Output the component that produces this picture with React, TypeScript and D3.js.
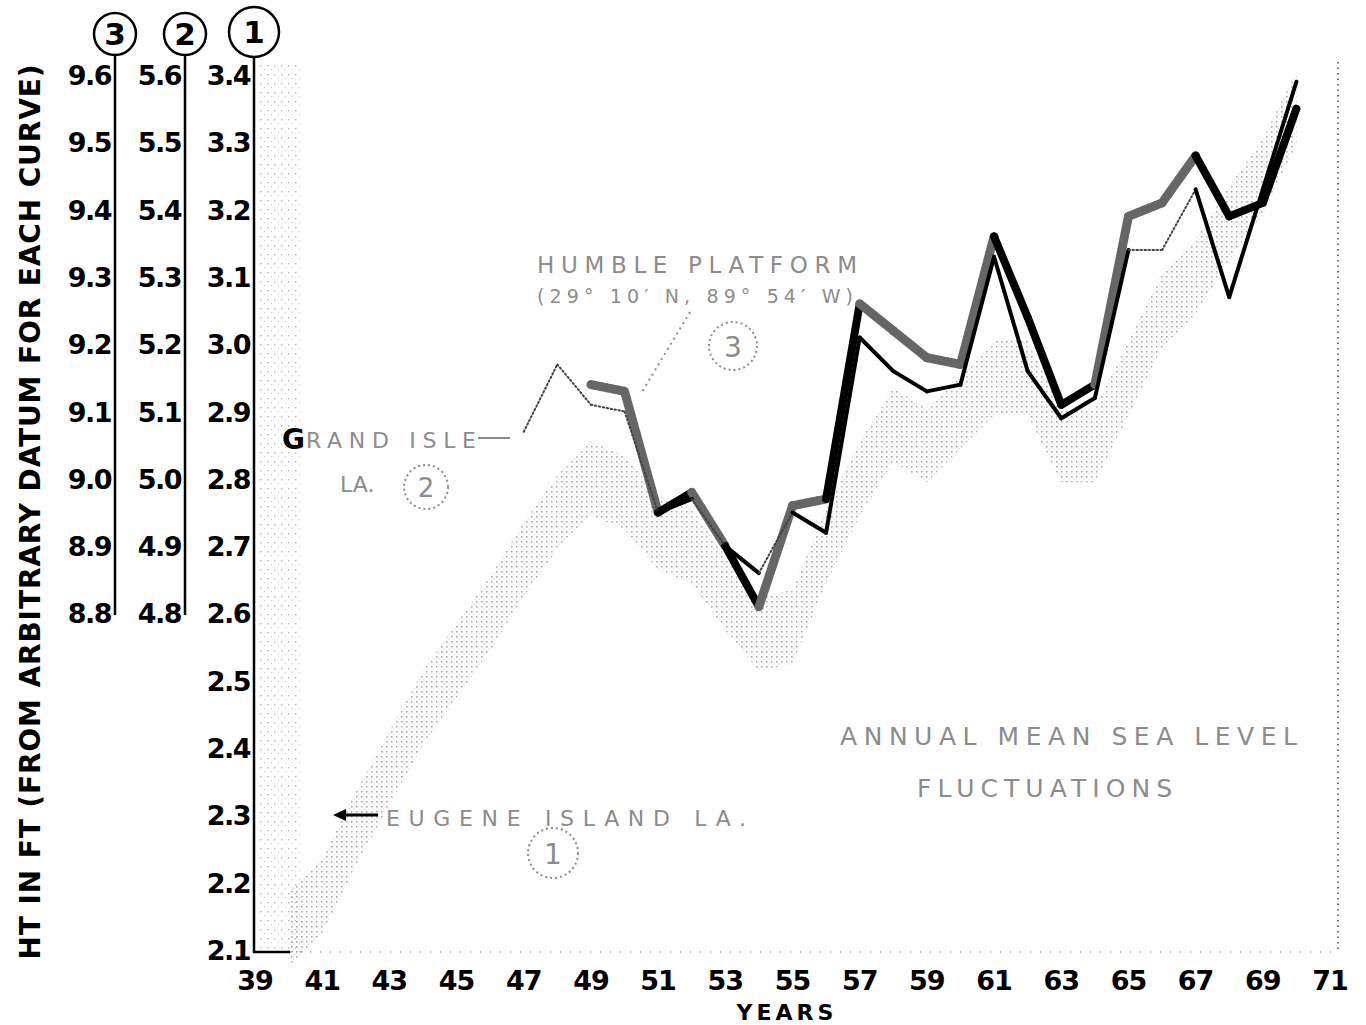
import React from 'react';
import * as d3 from 'd3';

// Eugene Island, La. (curve 1, left scale)
const eugeneYears = [1940, 1941, 1942, 1943, 1944, 1945, 1946, 1947, 1948, 1949, 1950, 1951, 1952, 1953, 1954, 1955, 1956, 1957, 1958, 1959, 1960, 1961, 1962, 1963, 1964, 1965, 1966, 1967, 1968, 1969, 1970];
const eugeneFt = [2.13, 2.18, 2.28, 2.37, 2.46, 2.53, 2.6, 2.68, 2.75, 2.8, 2.78, 2.72, 2.7, 2.63, 2.57, 2.58, 2.7, 2.8, 2.88, 2.85, 2.9, 2.95, 2.95, 2.85, 2.85, 2.95, 3.05, 3.1, 3.18, 3.25, 3.35];

// Grand Isle, La. (curve 2, middle scale)
const grandIsleYears = [1947, 1948, 1949, 1950, 1951, 1952, 1953, 1954, 1955, 1956, 1957, 1958, 1959, 1960, 1961, 1962, 1963, 1964, 1965, 1966, 1967, 1968, 1969, 1970];
const grandIsleFt = [5.07, 5.17, 5.11, 5.1, 4.95, 4.97, 4.9, 4.86, 4.95, 4.92, 5.21, 5.16, 5.13, 5.14, 5.33, 5.16, 5.09, 5.12, 5.34, 5.34, 5.43, 5.27, 5.43, 5.59];

// Humble Platform (curve 3, outer scale)
const humbleYears = [1949, 1950, 1951, 1952, 1953, 1954, 1955, 1956, 1957, 1958, 1959, 1960, 1961, 1962, 1963, 1964, 1965, 1966, 1967, 1968, 1969, 1970];
const humbleFt = [9.14, 9.13, 8.95, 8.98, 8.9, 8.81, 8.96, 8.97, 9.26, 9.22, 9.18, 9.17, 9.36, 9.24, 9.11, 9.14, 9.39, 9.41, 9.48, 9.39, 9.41, 9.55];

const ticks1 = ['3.4', '3.3', '3.2', '3.1', '3.0', '2.9', '2.8', '2.7', '2.6', '2.5', '2.4', '2.3', '2.2', '2.1'];
const ticks2 = ['5.6', '5.5', '5.4', '5.3', '5.2', '5.1', '5.0', '4.9', '4.8'];
const ticks3 = ['9.6', '9.5', '9.4', '9.3', '9.2', '9.1', '9.0', '8.9', '8.8'];
const yearTicks = [39, 41, 43, 45, 47, 49, 51, 53, 55, 57, 59, 61, 63, 65, 67, 69, 71];

// which segments print solid (the rest came out stippled in the scan)
const humbleSolid = [0, 0, 1, 0, 1, 0, 0, 1, 0, 0, 0, 0, 1, 1, 1, 0, 0, 0, 1, 1, 1];
const grandSolid = [0, 0, 0, 0, 1, 0, 1, 0, 1, 1, 1, 1, 1, 1, 1, 1, 1, 1, 0, 0, 1, 1, 1];

const W = 1366;
const H = 1025;
const bold = "'DejaVu Sans', sans-serif";
const faded = '#8c8c8c';

const App: React.FC = () => {
  const x = d3.scaleLinear().domain([39, 71]).range([255, 1330]);
  const y1 = d3.scaleLinear().domain([2.1, 3.4]).range([950, 75]);
  const y2 = d3.scaleLinear().domain([4.3, 5.6]).range([950, 75]);
  const y3 = d3.scaleLinear().domain([8.3, 9.6]).range([950, 75]);
  const yr = (v: number) => x(v - 1900);

  const band = d3.area<number>()
    .x((_, i) => yr(eugeneYears[i]))
    .y0(v => y1(v - 0.055))
    .y1(v => y1(v + 0.055));

  const seg = d3.line<[number, number]>();

  const segments = (years: number[], vals: number[], ys: d3.ScaleLinear<number, number>) =>
    vals.slice(1).map((v, i) => seg([
      [yr(years[i]), ys(vals[i])],
      [yr(years[i + 1]), ys(v)],
    ]) as string);

  const humbleSegs = segments(humbleYears, humbleFt, y3);
  const grandSegs = segments(grandIsleYears, grandIsleFt, y2);

  const axisCols = [
    { x: 115, labels: ticks3, scale: y3, num: '3', cy: 34, r: 21, bottom: 615 },
    { x: 185, labels: ticks2, scale: y2, num: '2', cy: 34, r: 21, bottom: 615 },
    { x: 254, labels: ticks1, scale: y1, num: '1', cy: 32, r: 25, bottom: 953 },
  ];

  return (
    <svg width={W} height={H} style={{ position: 'absolute', left: 0, top: 0, background: '#fff' }}>
      <defs>
        <pattern id="halftone" width="5" height="5" patternUnits="userSpaceOnUse">
          <rect x="1" y="1" width="1.6" height="1.6" fill="#707070" />
          <rect x="3.5" y="3.5" width="1" height="1" fill="#a0a0a0" />
        </pattern>
        <pattern id="sparse" width="7" height="9" patternUnits="userSpaceOnUse">
          <rect x="1" y="2" width="1.4" height="1.4" fill="#888" />
          <rect x="5" y="6" width="1" height="1.2" fill="#aaa" />
        </pattern>
      </defs>

      {/* stippled strip along left axis and dotted right border */}
      <rect x={258} y={62} width={44} height={890} fill="url(#sparse)" opacity={0.6} />
      <line x1={1338} x2={1338} y1={62} y2={952} stroke="#777" strokeWidth={2} strokeDasharray="1.5 4" />

      {/* Eugene Island halftone band */}
      <path d={band(eugeneFt) as string} fill="url(#halftone)" opacity={0.6} />

      {/* Humble Platform (thick) */}
      {humbleSegs.map((d, i) => (
        <path key={`h${i}`} d={d} fill="none"
          stroke={humbleSolid[i] ? '#000' : '#666'}
          strokeWidth={humbleSolid[i] ? 8 : 9}
          strokeDasharray={humbleSolid[i] ? undefined : '1.6 1.6'}
          strokeLinecap="round" strokeLinejoin="round" />
      ))}

      {/* Grand Isle (thin) */}
      {grandSegs.map((d, i) => (
        <path key={`g${i}`} d={d} fill="none"
          stroke={grandSolid[i] ? '#000' : '#444'}
          strokeWidth={grandSolid[i] ? 4 : 2}
          strokeDasharray={grandSolid[i] ? undefined : '1.5 2.5'}
          strokeLinecap="round" strokeLinejoin="round" />
      ))}

      {/* Left scales */}
      {axisCols.map(c => (
        <g key={c.num}>
          <circle cx={c.x} cy={c.cy} r={c.r} fill="#fff" stroke="#000" strokeWidth={2.5} />
          <text x={c.x} y={c.cy + 11} textAnchor="middle" fontFamily={bold} fontWeight="bold" fontSize={31}>{c.num}</text>
          <line x1={c.x} x2={c.x} y1={c.cy + c.r} y2={c.bottom} stroke="#000" strokeWidth={2.5} />
          {c.labels.map(t => (
            <text key={t} x={c.x - 4} y={c.scale(+t) + 10} textAnchor="end"
              fontFamily={bold} fontWeight="bold" fontSize={27} letterSpacing={-1.5}>{t}</text>
          ))}
        </g>
      ))}

      {/* X axis */}
      <line x1={253} x2={290} y1={952} y2={952} stroke="#000" strokeWidth={2.5} />
      <line x1={290} x2={1338} y1={952} y2={952} stroke="#999" strokeWidth={1.5} strokeDasharray="1 9" />
      {yearTicks.map(t => (
        <text key={t} x={x(t)} y={990} textAnchor="middle" fontFamily={bold} fontWeight="bold" fontSize={27} letterSpacing={-1}>{t}</text>
      ))}
      <text x={787} y={1020} textAnchor="middle" fontFamily={bold} fontWeight="bold" fontSize={22} letterSpacing={4}>YEARS</text>

      {/* Y title */}
      <text transform="translate(40,512) rotate(-90)" textAnchor="middle" fontFamily={bold}
        fontWeight="bold" fontSize={28} textLength={895} lengthAdjust="spacing">HT IN FT (FROM ARBITRARY DATUM FOR EACH  CURVE)</text>

      {/* Annotations */}
      <g fontFamily={bold} fill={faded}>
        <text x={537} y={273} fontSize={23} textLength={320} lengthAdjust="spacing">HUMBLE PLATFORM</text>
        <text x={537} y={303} fontSize={19} textLength={316} lengthAdjust="spacing">(29° 10′ N, 89° 54′ W)</text>
        <line x1={690} y1={312} x2={642} y2={392} stroke={faded} strokeWidth={2} strokeDasharray="2 4" />
        <circle cx={733} cy={346} r={24} fill="none" stroke={faded} strokeWidth={2} strokeDasharray="2 3" />
        <text x={733} y={357} fontSize={28} textAnchor="middle">3</text>

        <text x={282} y={449} fontSize={28} fontWeight="bold" fill="#000">G</text>
        <text x={306} y={448} fontSize={22} textLength={170} lengthAdjust="spacing">RAND ISLE</text>
        <line x1={478} x2={510} y1={438} y2={438} stroke={faded} strokeWidth={2} />
        <text x={340} y={492} fontSize={22}>LA.</text>
        <circle cx={426} cy={487} r={22} fill="none" stroke={faded} strokeWidth={2} strokeDasharray="2 3" />
        <text x={426} y={497} fontSize={26} textAnchor="middle">2</text>

        <line x1={378} x2={343} y1={815} y2={815} stroke="#000" strokeWidth={3} />
        <path d="M333,815 L346,809 L346,821 Z" fill="#000" />
        <text x={386} y={826} fontSize={22} textLength={360} lengthAdjust="spacing">EUGENE ISLAND LA.</text>
        <circle cx={553} cy={853} r={25} fill="none" stroke={faded} strokeWidth={2} strokeDasharray="2 3" />
        <text x={553} y={864} fontSize={28} textAnchor="middle">1</text>

        <text x={840} y={745} fontSize={25} textLength={457} lengthAdjust="spacing">ANNUAL MEAN SEA LEVEL</text>
        <text x={917} y={797} fontSize={25} textLength={255} lengthAdjust="spacing">FLUCTUATIONS</text>
      </g>
    </svg>
  );
};

export default App;
